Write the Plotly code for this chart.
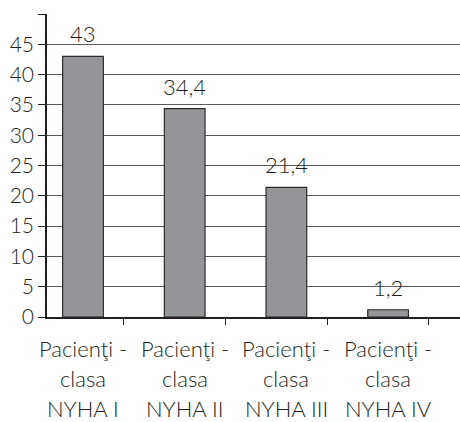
import plotly.graph_objects as go

# Distribution of patients by NYHA class (%)
categories = ["Pacienţi - clasa NYHA I", "Pacienţi - clasa NYHA II",
              "Pacienţi - clasa NYHA III", "Pacienţi - clasa NYHA IV"]
label_lines = [["Pacienţi -", "clasa", "NYHA I"],
               ["Pacienţi -", "clasa", "NYHA II"],
               ["Pacienţi -", "clasa", "NYHA III"],
               ["Pacienţi -", "clasa", "NYHA IV"]]
values = [43, 34.4, 21.4, 1.2]
value_labels = ["43", "34,4", "21,4", "1,2"]
y_ticks = [0, 5, 10, 15, 20, 25, 30, 35, 40, 45, 50]
y_ticktext = ["0", "5", "10", "15", "20", "25", "30", "35", "40", "45", ""]

FONT = "Lato"
WEIGHT = 300
TXT = "#231f20"

xpos = list(range(len(categories)))

fig = go.Figure()
fig.add_trace(go.Bar(
    x=xpos, y=values, width=0.4,
    marker=dict(color="#939598", line=dict(color="#2b2b2b", width=1.2)),
    hovertext=categories,
))

annotations = []
for i, (v, t) in enumerate(zip(values, value_labels)):
    annotations.append(dict(x=i, y=v, text=t, showarrow=False, xref="x", yref="y",
                            yanchor="bottom", yshift=7,
                            font=dict(family=FONT, size=22, weight=WEIGHT, color=TXT)))
for i, lines in enumerate(label_lines):
    for j, line in enumerate(lines):
        annotations.append(dict(x=i, y=0, text=line, showarrow=False,
                                xref="x", yref="paper", yanchor="middle",
                                yshift=-31 - 30 * j,
                                font=dict(family=FONT, size=22, weight=WEIGHT, color=TXT)))

fig.update_layout(
    width=460, height=422,
    margin=dict(l=47, r=0, t=14, b=105),
    paper_bgcolor="white", plot_bgcolor="white",
    showlegend=False,
    annotations=annotations,
    xaxis=dict(range=[-0.354, 3.707], tickvals=[0.4, 1.4, 2.4, 3.4],
               showticklabels=False, ticks="outside", ticklen=6,
               tickcolor="#231f20", tickwidth=1,
               showgrid=False, zeroline=False,
               showline=True, linecolor="#231f20", linewidth=1.5),
    yaxis=dict(range=[0, 50], tickvals=y_ticks, ticktext=y_ticktext,
               ticks="outside", ticklen=7, tickcolor="#231f20", tickwidth=1,
               showgrid=True, gridcolor="#5a5a5a", gridwidth=1.2,
               zeroline=False, showline=True, linecolor="#231f20", linewidth=1.5,
               tickfont=dict(family=FONT, size=21, weight=WEIGHT, color=TXT)),
)

fig.write_html("out.html")
